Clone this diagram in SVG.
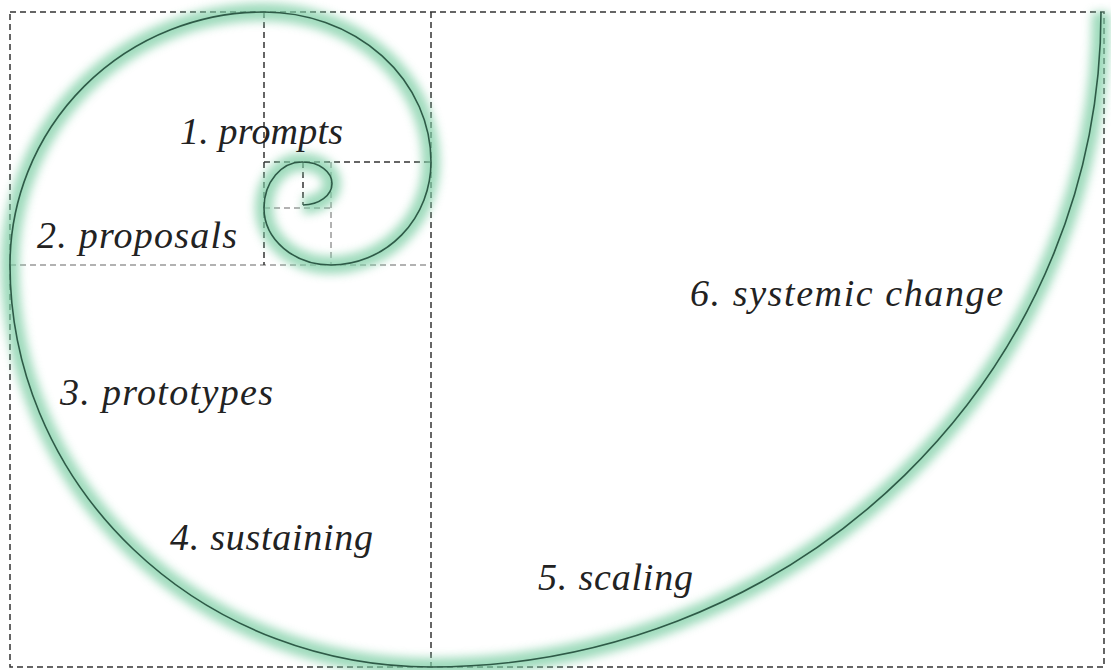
<svg xmlns="http://www.w3.org/2000/svg" width="1111" height="670" viewBox="0 0 1111 670">
<defs>
<filter id="glow" x="-10%" y="-10%" width="120%" height="120%"><feGaussianBlur stdDeviation="5"/></filter>
</defs>
<style>
.d{fill:none;stroke:#333;stroke-width:1.5;stroke-dasharray:6 4}
.l{fill:none;stroke:#999;stroke-width:1.5;stroke-dasharray:6 4}
.lbl{font-family:"Liberation Serif",serif;font-style:italic;font-size:38px;fill:#222}
</style>
<rect width="1111" height="670" fill="#fff"/>
<g id="grid">
<rect class="d" x="10" y="12" width="1094" height="655"/>
<line class="d" x1="431" y1="12" x2="431" y2="667"/>
<line class="l" x1="10" y1="265" x2="431" y2="265"/>
<line class="d" x1="264" y1="12" x2="264" y2="265"/>
<line class="d" x1="264" y1="162" x2="431" y2="162"/>
<line class="l" x1="331" y1="162" x2="331" y2="265"/>
<line class="l" x1="264" y1="208" x2="331" y2="208"/>
<line class="d" x1="303" y1="162" x2="303" y2="205"/>
</g>
<g id="spiral">
<path fill="none" stroke="#7fcfa6" stroke-width="18" opacity="0.75" filter="url(#glow)" d="M303,205 A29,21.5 0 0 0 303,162 A38,46 0 0 0 264,208 A67,57 0 0 0 331,265 A100,103 0 0 0 431,162 A167,150 0 0 0 264,12 A254,253 0 0 0 10,265 A421,402 0 0 0 431,667 A670,655 0 0 0 1101,12"/>
<path fill="none" stroke="#2e5a47" stroke-width="1.6" d="M303,205 A29,21.5 0 0 0 303,162 A38,46 0 0 0 264,208 A67,57 0 0 0 331,265 A100,103 0 0 0 431,162 A167,150 0 0 0 264,12 A254,253 0 0 0 10,265 A421,402 0 0 0 431,667 A670,655 0 0 0 1101,12"/>
</g>
<g id="n1"><text class="lbl" x="180" y="144" textLength="163">1. prompts</text></g>
<g id="n2"><text class="lbl" x="37" y="248" textLength="200">2. proposals</text></g>
<g id="n3"><text class="lbl" x="60" y="405" textLength="213">3. prototypes</text></g>
<g id="n4"><text class="lbl" x="170" y="550" textLength="203">4. sustaining</text></g>
<g id="n5"><text class="lbl" x="538" y="590" textLength="155">5. scaling</text></g>
<g id="n6"><text class="lbl" x="690" y="306" textLength="313">6. systemic change</text></g>
</svg>
